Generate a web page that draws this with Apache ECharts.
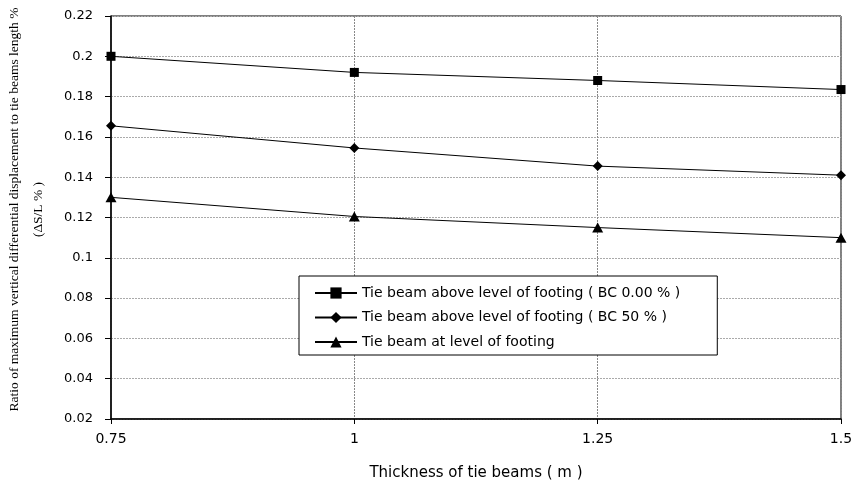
<!DOCTYPE html>
<html>
<head>
<meta charset="utf-8">
<script src="https://cdn.jsdelivr.net/npm/echarts@6/dist/echarts.min.js"></script>
<style>html,body{margin:0;padding:0;background:#fff}#c{width:856px;height:481px}</style>
</head>
<body>
<div id="c"></div>
<script>
var thickness = [0.75, 1, 1.25, 1.5];
var seriesNames = [
  'Tie beam above level of footing ( BC 0.00 % )',
  'Tie beam above level of footing ( BC 50 % )',
  'Tie beam at level of footing'
];
var bc0 = [0.200, 0.192, 0.188, 0.1835];
var bc50 = [0.1655, 0.1545, 0.1455, 0.141];
var atLevel = [0.130, 0.1205, 0.115, 0.110];
var symbols = ['rect', 'diamond', 'triangle'];
var symbolSizes = [[9, 9], [10, 10], [11, 10]];

var chart = echarts.init(document.getElementById('c'));
function pairs(vals) { return thickness.map(function (x, i) { return [x, vals[i]]; }); }
var allVals = [bc0, bc50, atLevel];
var series = allVals.map(function (v, i) {
  return {
    name: seriesNames[i],
    type: 'line',
    data: pairs(v),
    symbol: symbols[i],
    symbolSize: symbolSizes[i],
    showAllSymbol: true,
    lineStyle: { color: '#000', width: 1 },
    itemStyle: { color: '#000' },
    clip: false,
    z: 5
  };
});

var labelFont = 'DejaVu Sans, Verdana, sans-serif';

chart.setOption({
  animation: false,
  backgroundColor: '#fff',
  grid: { left: 111, right: 15, top: 16, bottom: 62, show: true, borderColor: '#000', borderWidth: 1,
    containLabel: false, outerBoundsMode: 'none' },
  legend: {
    orient: 'vertical',
    left: 299,
    top: 276,
    padding: [10, 37, 6, 15],
    itemGap: 10.5,
    itemWidth: 42,
    itemHeight: 14,
    backgroundColor: '#fff',
    borderColor: '#000',
    borderWidth: 1,
    textStyle: { fontFamily: labelFont, fontSize: 14, color: '#000' },
    data: seriesNames
  },
  xAxis: {
    type: 'value',
    min: 0.75,
    max: 1.5,
    interval: 0.25,
    name: 'Thickness of tie beams ( m )',
    nameLocation: 'middle',
    nameGap: 47,
    nameTextStyle: { fontFamily: labelFont, fontSize: 15, color: '#000' },
    axisLine: { lineStyle: { color: '#000', width: 1.5 } },
    axisTick: { show: true, length: 5, lineStyle: { color: '#000' } },
    axisLabel: { fontFamily: labelFont, fontSize: 14, color: '#000', margin: 13,
      formatter: function (v) { return String(v); } },
    splitLine: { show: true, lineStyle: { color: '#888', type: [2, 1], width: 1 } }
  },
  yAxis: {
    type: 'value',
    min: 0.02,
    max: 0.22,
    interval: 0.02,
    name: 'Ratio of maximum vertical differential displacement to tie beams length %\n(ΔS/L % )',
    nameLocation: 'middle',
    nameRotate: 90,
    nameGap: 61,
    nameTextStyle: { fontFamily: 'Liberation Serif, Times New Roman', fontSize: 13.5, color: '#000', lineHeight: 24, align: 'center', padding: [0, 0, 0, 16] },
    axisLine: { show: true, lineStyle: { color: '#000', width: 1.5 } },
    axisTick: { show: true, length: 6, lineStyle: { color: '#000' } },
    axisLabel: { fontFamily: labelFont, fontSize: 13, color: '#000', margin: 18,
      formatter: function (v) { return String(parseFloat(v.toFixed(2))); } },
    splitLine: { show: true, lineStyle: { color: '#aaa', type: [2, 1], width: 1 } }
  },
  series: series
});
</script>
</body>
</html>
